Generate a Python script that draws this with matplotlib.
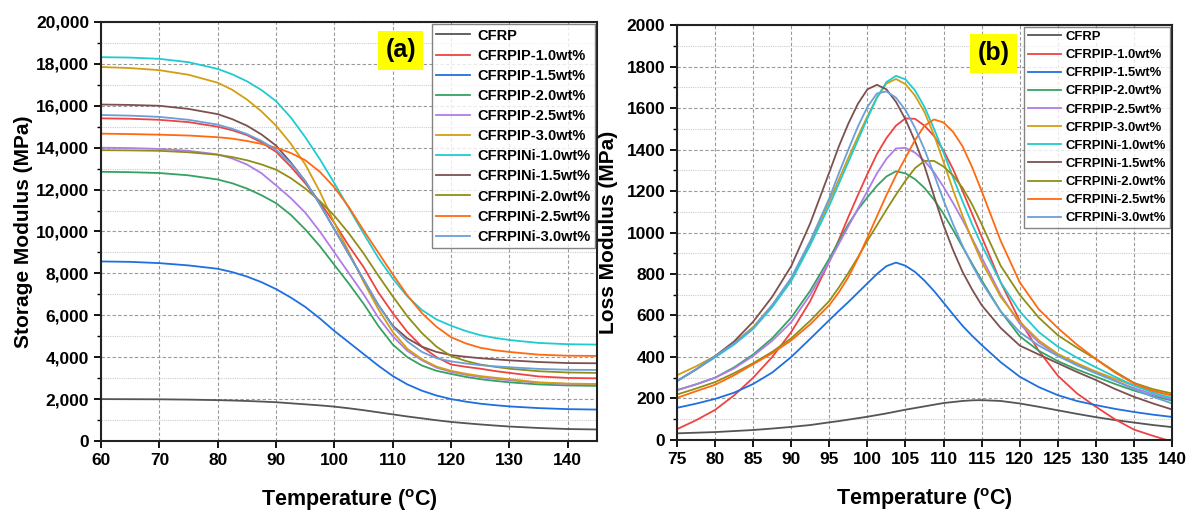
import matplotlib
matplotlib.use("Agg")
import matplotlib.pyplot as plt
from matplotlib.ticker import MultipleLocator, FuncFormatter

plt.rcParams["font.family"] = ["Liberation Sans", "DejaVu Sans"]
plt.rcParams["font.weight"] = "bold"
plt.rcParams["mathtext.fontset"] = "custom"
plt.rcParams["mathtext.bf"] = "Liberation Sans:bold"
plt.rcParams["mathtext.rm"] = "Liberation Sans:bold"
plt.rcParams["mathtext.default"] = "bf"

labels = ["CFRP", "CFRPIP-1.0wt%", "CFRPIP-1.5wt%", "CFRPIP-2.0wt%", "CFRPIP-2.5wt%",
          "CFRPIP-3.0wt%", "CFRPINi-1.0wt%", "CFRPINi-1.5wt%", "CFRPINi-2.0wt%",
          "CFRPINi-2.5wt%", "CFRPINi-3.0wt%"]
colors = ["#555555", "#ef4343", "#1f6fe0", "#35a262", "#b07ce8", "#d29e12",
          "#1fcbcf", "#7d5050", "#8f8f18", "#ff6a10", "#6a9fda"]

# (a) storage modulus
temp_a = [60, 65, 70, 75, 80, 82.5, 85, 87.5, 90, 92.5, 95, 97.5, 100, 102.5, 105, 107.5,
          110, 112.5, 115, 117.5, 120, 122.5, 125, 127.5, 130, 135, 140, 145]
storage = [
    [2000, 1995, 1990, 1975, 1950, 1932, 1910, 1882, 1850, 1800, 1750, 1700, 1640, 1560, 1470, 1370,
     1270, 1170, 1080, 990, 910, 848, 790, 738, 690, 620, 570, 550],
    [15400, 15380, 15330, 15220, 15000, 14830, 14600, 14250, 13800, 13100, 12300, 11400, 10400, 9300, 8300, 7100,
     6100, 5200, 4500, 4000, 3650, 3540, 3450, 3340, 3250, 3080, 3010, 2990],
    [8570, 8550, 8490, 8380, 8220, 8060, 7850, 7580, 7250, 6850, 6400, 5850, 5250, 4700, 4150, 3600,
     3100, 2700, 2400, 2170, 2000, 1880, 1780, 1710, 1650, 1570, 1520, 1500],
    [12850, 12830, 12790, 12680, 12480, 12300, 12050, 11730, 11350, 10800, 10100, 9300, 8400, 7500, 6550, 5500,
     4600, 4000, 3600, 3350, 3200, 3060, 2950, 2870, 2800, 2700, 2650, 2630],
    [14000, 13980, 13940, 13850, 13680, 13480, 13200, 12780, 12200, 11600, 10900, 10000, 9000, 8000, 7000, 5900,
     5000, 4300, 3850, 3500, 3300, 3160, 3050, 2970, 2900, 2780, 2720, 2700],
    [17850, 17800, 17700, 17480, 17100, 16760, 16300, 15730, 15050, 14200, 13200, 11900, 10400, 9000, 7600, 6300,
     5200, 4400, 3900, 3550, 3350, 3210, 3100, 3020, 2950, 2800, 2740, 2720],
    [18320, 18300, 18240, 18080, 17760, 17500, 17170, 16750, 16220, 15450, 14500, 13450, 12300, 11100, 9900, 8750,
     7750, 6900, 6250, 5800, 5500, 5250, 5050, 4920, 4820, 4680, 4620, 4600],
    [16060, 16040, 16000, 15850, 15600, 15360, 15050, 14630, 14100, 13300, 12400, 11300, 10100, 8900, 7700, 6500,
     5500, 4900, 4500, 4250, 4100, 4020, 3950, 3900, 3850, 3770, 3720, 3710],
    [13880, 13870, 13850, 13780, 13660, 13550, 13400, 13200, 12950, 12550, 12050, 11450, 10750, 9900, 8950, 7900,
     6900, 5950, 5150, 4500, 4050, 3820, 3650, 3540, 3450, 3330, 3270, 3250],
    [14670, 14650, 14620, 14580, 14500, 14430, 14320, 14180, 14000, 13750, 13400, 12850, 12100, 11150, 10050, 9000,
     7950, 6950, 6100, 5450, 4950, 4660, 4450, 4330, 4250, 4120, 4070, 4060],
    [15560, 15530, 15470, 15330, 15100, 14900, 14650, 14320, 13900, 13250, 12400, 11300, 10100, 8900, 7700, 6500,
     5450, 4750, 4250, 3950, 3800, 3700, 3620, 3565, 3520, 3440, 3400, 3390],
]

# (b) loss modulus
temp_b = [75, 77.5, 80, 82.5, 85, 87.5, 90, 92.5, 95, 96.25, 97.5, 98.75, 100, 101.25,
          102.5, 103.75, 105, 106.25, 107.5, 108.75, 110, 111.25, 112.5, 113.75, 115,
          117.5, 120, 122.5, 125, 127.5, 130, 132.5, 135, 137.5, 140]
loss = [
    [32, 35, 38, 43, 48, 55, 63, 72, 85, 91, 98, 105, 112, 120,
     128, 137, 146, 154, 162, 170, 178, 183, 188, 191, 192,
     188, 176, 160, 143, 126, 110, 96, 84, 72, 62],
    [52, 95, 145, 215, 300, 400, 520, 670, 860, 965, 1075, 1180, 1282, 1378,
     1455, 1515, 1550, 1548, 1515, 1465, 1395, 1305, 1200, 1090, 980,
     760, 575, 430, 310, 225, 160, 100, 50, 20, -8],
    [155, 175, 198, 228, 270, 325, 400, 488, 578, 622, 665, 710, 755, 800,
     838, 855, 840, 810, 768, 718, 662, 605, 550, 502, 458,
     375, 305, 255, 216, 188, 168, 150, 135, 122, 111],
    [240, 268, 300, 350, 412, 490, 590, 720, 875, 958, 1040, 1110, 1170, 1225,
     1270, 1295, 1285, 1257, 1215, 1158, 1090, 1012, 930, 850, 770,
     620, 500, 430, 380, 340, 305, 270, 238, 212, 190],
    [240, 268, 300, 345, 405, 478, 568, 700, 860, 945, 1030, 1115, 1200, 1285,
     1355, 1405, 1408, 1385, 1345, 1290, 1220, 1142, 1060, 972, 880,
     700, 560, 470, 410, 365, 325, 285, 250, 220, 196],
    [312, 355, 404, 468, 545, 650, 775, 950, 1150, 1255, 1360, 1462, 1560, 1650,
     1718, 1740, 1715, 1660, 1580, 1470, 1340, 1205, 1080, 965, 860,
     690, 570, 480, 415, 370, 330, 295, 262, 235, 213],
    [284, 340, 398, 460, 535, 640, 766, 940, 1130, 1235, 1340, 1445, 1550, 1650,
     1725, 1755, 1738, 1685, 1605, 1500, 1385, 1265, 1150, 1040, 940,
     760, 620, 520, 450, 397, 350, 305, 262, 228, 202],
    [284, 340, 404, 475, 570, 690, 838, 1045, 1290, 1415, 1525, 1620, 1690, 1712,
     1690, 1630, 1545, 1440, 1320, 1175, 1035, 915, 810, 725, 650,
     540, 455, 412, 370, 328, 289, 246, 208, 176, 147],
    [219, 248, 279, 322, 370, 425, 490, 575, 670, 735, 805, 880, 960, 1035,
     1110, 1182, 1250, 1310, 1345, 1345, 1318, 1275, 1215, 1135, 1040,
     840, 700, 590, 505, 445, 390, 330, 275, 245, 224],
    [203, 235, 266, 312, 365, 418, 480, 558, 650, 712, 785, 875, 975, 1078,
     1180, 1275, 1360, 1445, 1515, 1545, 1530, 1485, 1415, 1315, 1200,
     960, 760, 630, 540, 460, 390, 325, 272, 238, 215],
    [284, 340, 404, 465, 540, 650, 782, 960, 1165, 1285, 1400, 1510, 1605, 1670,
     1680, 1650, 1590, 1505, 1400, 1280, 1155, 1040, 935, 843, 760,
     620, 520, 455, 405, 360, 321, 285, 245, 208, 176],
]


def setup_axes(ax, xlim, xstep, ylim, ystep, ylabel, pad):
    ax.set_xlim(*xlim)
    ax.set_ylim(*ylim)
    ax.xaxis.set_major_locator(MultipleLocator(xstep))
    ax.yaxis.set_major_locator(MultipleLocator(ystep))
    ax.yaxis.set_minor_locator(MultipleLocator(ystep / 2))
    ax.grid(which="major", linestyle=(0, (3, 2)), color="#999999", linewidth=0.8)
    ax.grid(which="minor", axis="y", linestyle=(0, (1, 1)), color="#cccccc", linewidth=0.8)
    ax.set_axisbelow(True)
    ax.tick_params(which="major", direction="out", length=5, width=1.3, labelsize=12.5)
    ax.tick_params(which="minor", direction="out", length=3, width=1.0)
    ax.tick_params(axis="x", which="minor", bottom=False)
    for s in ax.spines.values():
        s.set_linewidth(1.5)
        s.set_color("#222222")
    ax.set_xlabel(r"Temperature ($^{o}$C)", fontsize=15.5, fontweight="bold", labelpad=14)
    ax.set_ylabel(ylabel, fontsize=15, fontweight="bold", labelpad=pad)


fig = plt.figure(figsize=(11.9, 5.11), dpi=100)
ax1 = fig.add_axes([0.0849, 0.137, 0.4168, 0.820])
ax2 = fig.add_axes([0.5689, 0.139, 0.416, 0.812])

for ys, lab, c in zip(storage, labels, colors):
    ax1.plot(temp_a, ys, color=c, lw=1.3, label=lab)
for ys, lab, c in zip(loss, labels, colors):
    ax2.plot(temp_b, ys, color=c, lw=1.3, label=lab)

setup_axes(ax1, (60, 145), 10, (0, 20000), 2000, "Storage Modulus (MPa)", 2)
ax1.yaxis.set_major_formatter(FuncFormatter(lambda v, p: f"{int(v):,}"))
setup_axes(ax2, (75, 140), 5, (0, 2000), 200, "Loss Modulus (MPa)", 6)

panels = [(ax1, "(a)", (0.604, 0.932), 10.5, 0.42, 2.3, 0.5),
          (ax2, "(b)", (0.640, 0.932), 9.4, 0.46, 2.5, 0.4)]
for ax, tag, xy, fs, sp, hl, tp in panels:
    leg = ax.legend(loc="upper right", fontsize=fs, frameon=True, fancybox=False,
                    handlelength=hl, handletextpad=tp, labelspacing=sp,
                    borderpad=0.3, borderaxespad=0.15)
    leg.get_frame().set_edgecolor("#666666")
    leg.get_frame().set_linewidth(1.0)
    for t in leg.get_texts():
        t.set_fontweight("bold")
    ax.text(xy[0], xy[1], tag, transform=ax.transAxes, ha="center", va="center",
            fontsize=18, fontweight="bold", zorder=10,
            bbox=dict(boxstyle="square,pad=0.3", facecolor="#ffff00", edgecolor="none"))

fig.savefig("out.png", dpi=100)
